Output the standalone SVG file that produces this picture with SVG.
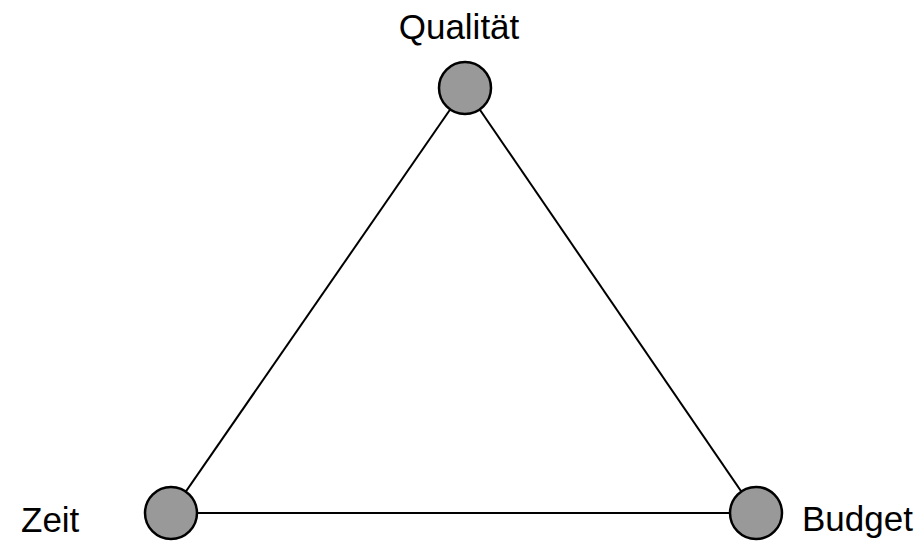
<svg xmlns="http://www.w3.org/2000/svg" width="921" height="543" viewBox="0 0 921 543">
<style>
.node{fill:#999999;stroke:#000;stroke-width:2.5}
.edge{stroke:#000;stroke-width:2;fill:none}
.lbl{font-family:"Liberation Sans",Arial,sans-serif;font-size:35px;fill:#000}
</style>
<rect width="921" height="543" fill="#fff"/>
<g id="connectors">
<line class="edge" x1="465" y1="88" x2="171" y2="513"/>
<line class="edge" x1="465" y1="88" x2="756" y2="513"/>
<line class="edge" x1="171" y1="513" x2="756" y2="513"/>
</g>
<g id="qualitaet">
<circle class="node" cx="465" cy="88" r="26"/>
<text class="lbl" x="459" y="39" text-anchor="middle">Qualität</text>
</g>
<g id="zeit">
<circle class="node" cx="171" cy="513" r="26"/>
<text class="lbl" x="21" y="532">Zeit</text>
</g>
<g id="budget">
<circle class="node" cx="756" cy="513" r="26"/>
<text class="lbl" x="802" y="531">Budget</text>
</g>
</svg>
